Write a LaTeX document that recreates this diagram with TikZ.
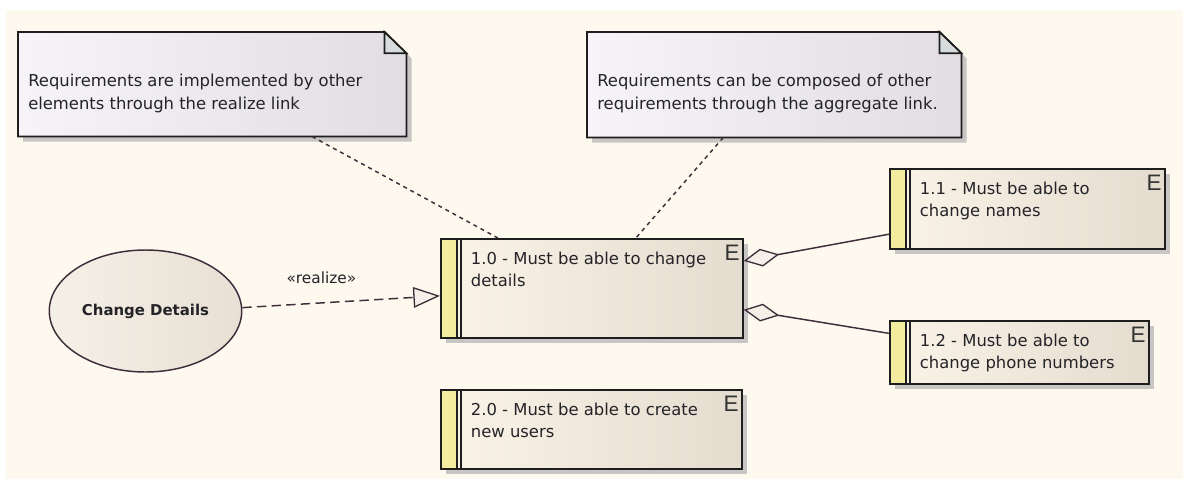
\documentclass[tikz,border=0pt]{standalone}
\usepackage{fontspec}
\setmainfont{DejaVu Sans}
\newfontfamily\efont{Liberation Sans}
\usetikzlibrary{positioning,shapes.geometric,shadows,arrows.meta}

\definecolor{bgcream}{RGB}{254,249,239}
\definecolor{reqleft}{RGB}{250,243,231}
\definecolor{reqright}{RGB}{228,220,207}
\definecolor{reqbar}{RGB}{243,236,158}
\definecolor{noteleft}{RGB}{247,244,249}
\definecolor{noteright}{RGB}{225,221,227}
\definecolor{notefold}{RGB}{214,220,220}
\definecolor{ucleft}{RGB}{245,240,231}
\definecolor{ucright}{RGB}{232,224,212}
\definecolor{shadowgrey}{RGB}{200,198,196}
\definecolor{outline}{RGB}{30,30,30}
\definecolor{linkcol}{RGB}{62,45,58}
\definecolor{textdark}{RGB}{35,35,40}

\begin{document}
\begin{tikzpicture}[x=0.75pt, y=-0.75pt,
    req/.style={draw=outline, line width=1.3pt, rectangle, anchor=north west, inner sep=0pt,
        left color=reqleft, right color=reqright,
        drop shadow={shadow xshift=3.75pt, shadow yshift=-3.75pt, fill=shadowgrey, opacity=1},
        path picture={
            \fill[reqbar] (path picture bounding box.north west) rectangle ([xshift=12pt]path picture bounding box.south west);
            \draw[outline, line width=1.3pt] ([xshift=12pt]path picture bounding box.north west) -- ([xshift=12pt]path picture bounding box.south west);
            \draw[outline, line width=1.3pt] ([xshift=15.2pt]path picture bounding box.north west) -- ([xshift=15.2pt]path picture bounding box.south west);
        }},
    note/.style={rectangle, anchor=north west, inner sep=0pt},
    notebody/.style={draw=outline, line width=1.3pt, left color=noteleft, right color=noteright,
        drop shadow={shadow xshift=3.75pt, shadow yshift=-3.75pt, fill=shadowgrey, opacity=1}},
    notecorner/.style={fill=notefold, draw=outline, line width=1.3pt, line join=miter},
    usecase/.style={draw=linkcol, line width=1.1pt, ellipse, left color=ucleft, right color=ucright,
        minimum width=141pt, minimum height=91.5pt, font=\bfseries\fontsize{11.2}{13}\selectfont, text=textdark},
    txt/.style={anchor=north west, align=left, inner sep=0pt, font=\fontsize{12.3}{16.8}\selectfont, text=textdark},
    ekind/.style={anchor=north east, inner sep=0pt, font=\efont\fontsize{16.8}{16.8}\selectfont, text=black!80},
    stereo/.style={pos=0.4, above=14pt, inner sep=0pt, font=\fontsize{11.5}{13}\selectfont, text=textdark},
    realize/.style={draw=linkcol, line width=1.1pt, dash pattern=on 7pt off 4pt,
        -{Triangle[length=20pt, width=15.5pt, fill=ucleft, line width=1pt]}},
    aggr/.style={draw=linkcol, line width=1.1pt, {Diamond[length=27pt, width=13.5pt, fill=ucleft, line width=1pt]}-},
    notelink/.style={draw=linkcol, line width=1.1pt, dash pattern=on 3pt off 3pt}]

    \useasboundingbox (0,0) rectangle (1183,479);
    \fill[bgcream] (6,10) rectangle (1183,479);

    % notes
    \node[note, minimum width=291pt, minimum height=78pt] (note-realize) at (18,32) {};
    \path[notebody] (note-realize.north west) -- ([xshift=-16.5pt]note-realize.north east)
        -- ([yshift=-16pt]note-realize.north east) -- (note-realize.south east) -- (note-realize.south west) -- cycle;
    \path[notecorner] ([xshift=-16.5pt]note-realize.north east) -- ([xshift=-16.5pt, yshift=-16pt]note-realize.north east)
        -- ([yshift=-16pt]note-realize.north east) -- cycle;
    \node[txt, below right=31.5pt and 7.5pt of note-realize.north west] (note-realize-text)
        {Requirements are implemented by other\\elements through the realize link};

    \node[note, minimum width=280.5pt, minimum height=78.75pt] (note-aggr) at (587,32) {};
    \path[notebody] (note-aggr.north west) -- ([xshift=-16.5pt]note-aggr.north east)
        -- ([yshift=-16pt]note-aggr.north east) -- (note-aggr.south east) -- (note-aggr.south west) -- cycle;
    \path[notecorner] ([xshift=-16.5pt]note-aggr.north east) -- ([xshift=-16.5pt, yshift=-16pt]note-aggr.north east)
        -- ([yshift=-16pt]note-aggr.north east) -- cycle;
    \node[txt, below right=31.5pt and 7.5pt of note-aggr.north west] (note-aggr-text)
        {Requirements can be composed of other\\requirements through the aggregate link.};

    % use case
    \node[usecase] (uc-change) at (145.5,311) {Change Details};

    % requirements
    \node[req, minimum width=226.5pt, minimum height=74.25pt] (r10) at (440,238) {};
    \node[txt, below right=10pt and 23pt of r10.north west] (r10-text) {1.0 - Must be able to change\\details};
    \node[ekind, below left=5.25pt and 3pt of r10.north east] (r10-e) {E};

    \node[req, minimum width=206.25pt, minimum height=60pt] (r11) at (889,168) {};
    \node[txt, below right=10pt and 23pt of r11.north west] (r11-text) {1.1 - Must be able to\\change names};
    \node[ekind, below left=5.25pt and 3pt of r11.north east] (r11-e) {E};

    \node[req, minimum width=194.25pt, minimum height=47.25pt] (r12) at (889,320) {};
    \node[txt, below right=10pt and 23pt of r12.north west] (r12-text) {1.2 - Must be able to\\change phone numbers};
    \node[ekind, below left=5.25pt and 3pt of r12.north east] (r12-e) {E};

    \node[req, minimum width=225.75pt, minimum height=59.25pt] (r20) at (440,389) {};
    \node[txt, below right=10pt and 23pt of r20.north west] (r20-text) {2.0 - Must be able to create\\new users};
    \node[ekind, below left=5.25pt and 3pt of r20.north east] (r20-e) {E};

    % links
    \draw[realize] (uc-change.2) -- node[stereo] (realize-label) {«realize»} ([yshift=-5.6pt]r10.west);
    \draw[aggr] ([yshift=20.6pt]r10.east) -- ([yshift=-19pt]r11.west);
    \draw[aggr] ([yshift=-16pt]r10.east) -- ([yshift=14.25pt]r12.west);
    \draw[notelink] ([xshift=74.8pt]note-realize.south) -- ([xshift=-70.5pt]r10.north);
    \draw[notelink] ([xshift=-38.25pt]note-aggr.south) -- ([xshift=33pt]r10.north);

\end{tikzpicture}
\end{document}
